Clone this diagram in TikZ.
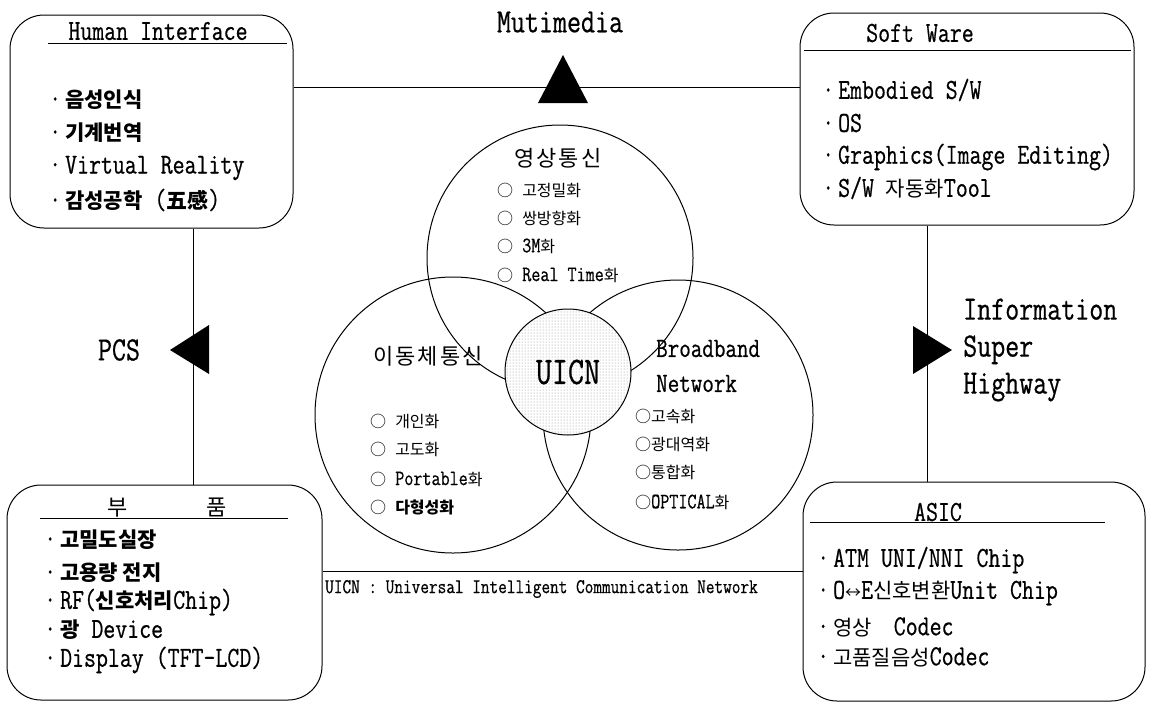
\documentclass[tikz,border=0pt]{standalone}
\usepackage{fontspec}
\setmainfont{Latin Modern Mono}[FakeStretch=0.8, FakeBold=0.6]
\newfontfamily\kr{Noto Sans CJK KR}
\usetikzlibrary{positioning,patterns}
\newcommand\fsz[1]{\fontsize{#1}{#1}\selectfont}
\newcommand\ko[1]{{\kr\fsz{21}#1}}
\newcommand\kb[1]{{\kr\bfseries\fsz{21}#1}}
\newcommand\ks[1]{{\kr\fsz{16}#1}}
\newcommand\cbul{{\kr\fsz{16}○}}
\newcommand\pt{·\kern4pt}
\tikzset{
  box/.style={draw, line width=1pt, rounded corners=34pt},
  link/.style={line width=1pt},
  venn/.style={circle, draw, line width=1pt, inner sep=0pt},
  head/.style={inner sep=0pt, font=\fsz{29}},
  item/.style={anchor=west, inner sep=0pt, font=\fsz{29}},
  sub/.style={anchor=west, inner sep=0pt, font=\fsz{22}},
  tag/.style={inner sep=0pt, font=\fsz{34}},
}
\begin{document}
\begin{tikzpicture}[x=1pt, y=-1pt]
  \useasboundingbox (0,0) rectangle (1150,705);
  % the four boxes
  \node[box, minimum width=283pt, minimum height=213pt] (hi) at (151.5,121.5) {};
  \node[box, minimum width=334pt, minimum height=212pt] (sw) at (967,119) {};
  \node[box, minimum width=315pt, minimum height=215pt] (parts) at (164.5,592.5) {};
  \node[box, minimum width=342pt, minimum height=219pt] (asic) at (974,591.5) {};
  % links between the boxes
  \coordinate (mm) at (563,87);
  \coordinate (pcs) at (193,350);
  \coordinate (ish) at (927,350);
  \coordinate (un) at (563,571);
  \begin{scope}[link]
    \draw (hi.east |- mm) -- (sw.west |- mm);
    \draw (hi.south -| pcs) -- (parts.north -| pcs);
    \draw (sw.south -| ish) -- (asic.north -| ish);
    \draw (parts.east |- un) -- (asic.west |- un);
  \end{scope}
  \fill (mm) +(0,-32) -- +(-25,16) -- +(25,16) -- cycle;
  \fill (pcs) +(-23,0) -- +(16,-25) -- +(16,24) -- cycle;
  \fill (ish) +(25,0) -- +(-14,-24) -- +(-14,24) -- cycle;
  \node[tag] (mmlbl) at (560,22) {Mutimedia};
  \node[tag] (pcslbl) at (119,350) {PCS};
  \node[tag, anchor=west, align=left, font={\fontsize{34}{37}\selectfont}] (ishlbl) at (963,350) {Information\\Super\\Highway};
  % venn
  \node[venn, minimum size=266pt] (vid) at (560,258) {};
  \node[venn, minimum size=276pt] (mob) at (453,415) {};
  \node[venn, minimum size=270pt] (bb) at (678,415) {};
  \node[venn, minimum size=126pt, preaction={fill=white}, pattern=dots, pattern color=black!45, font=\fsz{39}] (uicn) at (568,372) {UICN};
  \node[inner sep=0pt, font=\kr\fsz{22}] (vidhd) at (558,158) {영\kern2pt 상\kern2pt 통\kern2pt 신};
  \node[sub] (vid1) at (497,190) {\cbul\ \ks{고정밀화}};
  \node[sub] (vid2) at (497,218) {\cbul\ \ks{쌍방향화}};
  \node[sub] (vid3) at (497,246) {\cbul\ 3M\ks{화}};
  \node[sub] (vid4) at (497,275) {\cbul\ Real Time\ks{화}};
  \node[inner sep=0pt, font=\kr\fsz{22}] (mobhd) at (428,356) {이\kern2pt 동\kern2pt 체\kern2pt 통\kern2pt 신};
  \node[sub] (mob1) at (370,421) {\cbul\ \ks{개인화}};
  \node[sub] (mob2) at (370,449) {\cbul\ \ks{고도화}};
  \node[sub] (mob3) at (370,479) {\cbul\ Portable\ks{화}};
  \node[sub] (mob4) at (370,507) {\cbul\ {\kr\bfseries\fsz{16}다형성화}};
  \node[inner sep=0pt, anchor=west, align=left, font={\fontsize{28}{35}\selectfont}] (bbhd) at (656,366) {Broadband\\Network};
  \node[sub] (bb1) at (635,416) {\cbul\ks{고속화}};
  \node[sub] (bb2) at (635,444) {\cbul\ks{광대역화}};
  \node[sub] (bb3) at (635,472) {\cbul\ks{통합화}};
  \node[sub] (bb4) at (635,502) {\cbul OPTICAL\ks{화}};
  % box contents
  \node[head] (hihd) at (158,31) {Human Interface};
  \draw[link] (48,43) -- (287,43);
  \node[item] (hi1) at (49,100) {\pt\kb{음성인식}};
  \node[item] (hi2) at (49,133) {\pt\kb{기계번역}};
  \node[item] (hi3) at (49,168) {\pt Virtual Reality};
  \node[item] (hi4) at (49,200) {\pt\kb{감성공학} (\kb{五感})};
  \node[head] (swhd) at (920,33) {Soft Ware};
  \draw[link] (804,50) -- (1131,50);
  \node[item] (sw1) at (822,90) {\pt Embodied S/W};
  \node[item] (sw2) at (822,123) {\pt OS};
  \node[item] (sw3) at (822,157) {\pt Graphics(Image Editing)};
  \node[item] (sw4) at (822,188) {\pt S/W \ko{자동화}Tool};
  \node[inner sep=0pt, font=\kr\fsz{22}] (partshd) at (167,508) {부\hspace{78pt}품};
  \draw[link] (40,518) -- (288,518);
  \node[item] (parts1) at (44,540) {\pt\kb{고밀도실장}};
  \node[item] (parts2) at (44,573) {\pt\kb{고용량 전지}};
  \node[item] (parts3) at (44,602) {\pt RF(\kb{신호처리}Chip)};
  \node[item] (parts4) at (44,630) {\pt\kb{광} Device};
  \node[item] (parts5) at (44,660) {\pt Display (TFT-LCD)};
  \node[head] (asichd) at (938,512) {ASIC};
  \draw[link] (810,522) -- (1105,522);
  \node[item] (asic1) at (817,560) {\pt ATM UNI/NNI Chip};
  \node[item] (asic2) at (817,593) {\pt O{\kr\fsz{16}↔}E\ko{신호변환}Unit Chip};
  \node[item] (asic3) at (817,627) {\pt\ko{영상}\hspace{22pt}Codec};
  \node[item] (asic4) at (817,657) {\pt\ko{고품질음성}Codec};
  \node[anchor=west, inner sep=0pt, font=\fsz{21}] (note) at (325,589) {UICN : Universal Intelligent Communication Network};
\end{tikzpicture}
\end{document}
